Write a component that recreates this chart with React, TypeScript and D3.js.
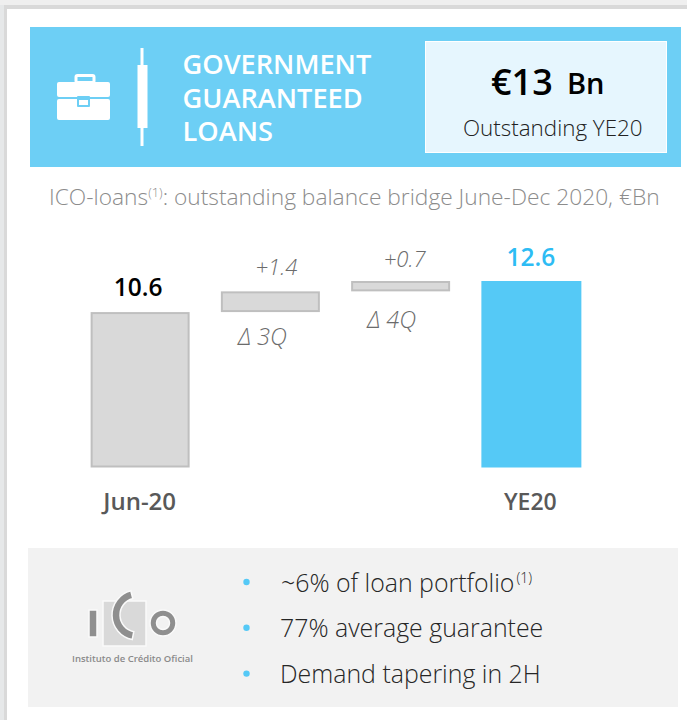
import React from 'react';
import * as d3 from 'd3';

const categories = ['Jun-20', 'd3Q', 'd4Q', 'YE20'];
const barStart = [0, 10.5, 11.9, 0];
const barEnd = [10.5, 11.9, 12.6, 12.6];
const valueLabels = ['10.6', '+1.4', '+0.7', '12.6'];
const axisLabels = ['Jun-20', '', '', 'YE20'];
const deltaLabels = ['', '\u0394 3Q', '\u0394 4Q', ''];
const bullets = ['~6% of loan portfolio', '77% average guarantee', 'Demand tapering in 2H'];
const titleLines = ['GOVERNMENT', 'GUARANTEED', 'LOANS'];

// label nudges, the source slide has them placed by hand
const valueDx = [-2, 6, 4, 0];
const valueDy = [-16, -16, -14, -15];
const deltaDx = [0, -8, -9, 0];
const deltaDy = [0, 33, 37, 0];

const FONT = '"Open Sans", "Noto Sans", sans-serif';
const width = 687;
const height = 720;

const xScale = d3.scaleBand().domain(categories).range([75, 596]).paddingInner(0.24).paddingOuter(0.12);
const yScale = d3.scaleLinear().domain([0, 12.6]).range([467.5, 281]);

const cArc = d3.arc()({ innerRadius: 17, outerRadius: 25, startAngle: -2.95, endAngle: -0.25 } as any);
const ring = d3.arc()({ innerRadius: 6.5, outerRadius: 13, startAngle: 0, endAngle: Math.PI * 2 } as any);

export default function App() {
  return (
    <svg width={width} height={height} style={{ position: 'absolute', left: 0, top: 0, fontFamily: FONT }}>
      {/* page behind the slide */}
      <rect x={0} y={0} width={width} height={height} fill="#e6e8e9" />
      <rect x={0} y={0} width={width} height={5} fill="#efefef" />
      <rect x={4} y={5} width={width - 4} height={height - 5} fill="#d9d9d9" />
      <rect x={7} y={9} width={width - 7} height={height - 9} fill="#ffffff" />

      {/* header */}
      <rect x={30} y={27} width={651} height={140} fill="#6dcff5" />
      <g fill="#ffffff">
        <rect x={57} y={82} width={53} height={15} rx={2} />
        <rect x={57} y={99} width={53} height={21} rx={2} />
        <rect x={76} y={75.5} width={18} height={7} rx={1.5} fill="none" stroke="#ffffff" strokeWidth={3} />
        <rect x={77} y={96} width={13} height={11} rx={1} fill="#6dcff5" />
        <rect x={79} y={100} width={9} height={5} />
        <rect x={140.5} y={48} width={3} height={98} />
        <rect x={137.5} y={65} width={10} height={63} />
      </g>
      {titleLines.map((t, i) => (
        <text key={t} x={182.5} y={74 + i * 33.7} fontSize={27.2} fontWeight={600} fill="#ffffff">{t}</text>
      ))}
      <rect x={425.5} y={41.5} width={241} height={111} fill="#e6f6fe" stroke="#ffffff" strokeWidth={1} />
      <text x={491} y={95} fontSize={36} fontWeight={600} fill="#000000">€13</text>
      <text x={567} y={94} fontSize={29} fontWeight={600} fill="#000000">Bn</text>
      <text x={463} y={136} fontSize={22.4} fontWeight={300} fill="#222222">Outstanding YE20</text>

      {/* subtitle */}
      <text x={49} y={205} fontSize={22.75} fontWeight={300} fill="#8c8c8c">
        ICO-loans<tspan fontSize={13} dy={-8}>(1)</tspan><tspan dy={8}>: outstanding balance bridge June-Dec 2020, €Bn</tspan>
      </text>

      {/* bridge */}
      {categories.map((c, i) => {
        const x = xScale(c) as number;
        const top = yScale(barEnd[i]);
        const bottom = yScale(barStart[i]);
        const total = i === 0 || i === 3;
        const blue = i === 3;
        const mid = x + xScale.bandwidth() / 2;
        return (
          <g key={c}>
            <rect
              x={blue ? x : x + 1}
              y={blue ? top : top + 1}
              width={blue ? xScale.bandwidth() + 1 : xScale.bandwidth() - 2}
              height={blue ? bottom - top : bottom - top - 2}
              fill={blue ? '#55c9f6' : '#d9d9d9'}
              stroke={blue ? 'none' : '#bfbfbf'}
              strokeWidth={blue ? 0 : 2}
            />
            <text
              x={mid + valueDx[i]}
              y={top + valueDy[i]}
              textAnchor="middle"
              fontSize={total ? 24.5 : 22}
              fontWeight={total ? 600 : 300}
              fontStyle={total ? 'normal' : 'italic'}
              fill={blue ? '#2dbcf4' : total ? '#000000' : '#6b6b6b'}
            >
              {valueLabels[i]}
            </text>
            {deltaLabels[i] && (
              <text x={mid + deltaDx[i]} y={bottom + deltaDy[i]} textAnchor="middle" fontSize={23.5} fontWeight={300} fontStyle="italic" fill="#6b6b6b">
                {deltaLabels[i]}
              </text>
            )}
            {axisLabels[i] && (
              <text x={mid - 0.5} y={510} textAnchor="middle" fontSize={i === 0 ? 24 : 23} fontWeight={600} fill="#595959">{axisLabels[i]}</text>
            )}
          </g>
        );
      })}

      {/* footer */}
      <rect x={28} y={548} width={650} height={159} fill="#f2f2f2" />
      <g stroke="#fafafa" strokeWidth={1.5}>
        <rect x={103} y={601} width={43} height={45} fill="#d9d9d9" />
        <rect x={89} y={610} width={8} height={27} fill="#8f8f8f" />
        <path d={cArc as string} transform="translate(137,615)" fill="#8f8f8f" />
        <path d={ring as string} transform="translate(163,623)" fill="#8f8f8f" />
      </g>
      <text x={72} y={662} fontSize={9.5} fontWeight={600} fill="#8a8a8a">Instituto de Crédito Oficial</text>

      {bullets.map((b, i) => {
        const y = 591.5 + i * 45.8;
        return (
          <g key={b}>
            <circle cx={246.5} cy={y - 9.5} r={3.2} fill="#55c9f6" />
            <text x={i === 0 ? 281 : 280} y={y} fontSize={24.9} fontWeight={300} fill="#262626">
              {b}
              {i === 0 && <tspan fontSize={14} dx={2} dy={-9}>(1)</tspan>}
            </text>
          </g>
        );
      })}
    </svg>
  );
}
